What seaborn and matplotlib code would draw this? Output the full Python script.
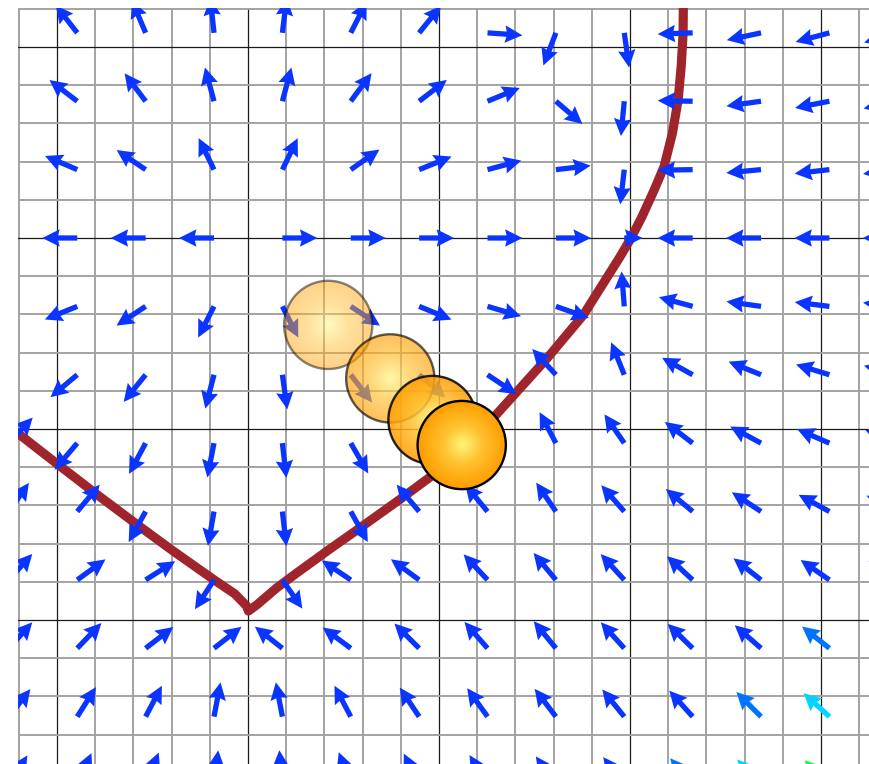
import numpy as np
import matplotlib
matplotlib.use("Agg")
import matplotlib.pyplot as plt
import seaborn as sns
from matplotlib.patches import Circle
from matplotlib.colors import to_rgb

# ---------------- data ----------------
# arrow tail positions (data units; major grid = 1)
arrow_x = [-1.252, -0.894, -0.536, -0.178, 0.180, 0.538, 0.896,
           1.254, 1.612, 1.970, 2.328, 2.686, 3.044, 3.402]
arrow_y = [3.074, 2.716, 2.358, 2.000, 1.642, 1.284, 0.926,
           0.568, 0.210, -0.148, -0.506, -0.864]

# arrow directions in degrees (row = arrow_y, column = arrow_x)
arrow_angle = [
    [140, 128, 113, 96, 83, 63, 51, -4, -111, -82, -178, -168, -165, -164],
    [150, 142.6, 127, 105, 75, 53.5, 37.6, 22.4, -40.7, -95.5, 179, -172, -169, -168],
    [165, 157, 146, 116, 64, 35, 22, 15, 6.5, -96.6, -179, -174.6, -173.5, -173],
    [180, 180, 180, 180, 0, 0, 0, 0, 0, 0, 180, 180, 180, 180],
    [-160, -158, -146.6, -117, -63, -33.4, -22.3, -16.4, -19.3, 94.4, 164.8, 172, 173, 174],
    [-145, -140, -129, -104.5, -82, -52.5, -41, -33.7, 132.6, 112, 151, 158, 163, 165],
    [47, -130.4, -118.3, -101, -83.5, -60, -45, 125, 117.8, 124.6, 142.6, 151.7, 156.6, 158],
    [55, 50, -119, -100, -83.4, -60.8, 130, 129.6, 124.3, 131.2, 140, 146.6, 151.5, 153],
    [48, 36, 32.3, -123, -55.2, 146.2, 143.8, 133.1, 129.7, 132.4, 137.3, 141.9, 145.4, 147],
    [48, 46.2, 37.5, 38, 141.8, 143.5, 135, 131.2, 129.3, 132, 135.7, 138.8, 141.6, 143],
    [52, 57.7, 62.2, 79.2, 100.8, 117.8, 123.7, 125.6, 127.4, 129, 132, 135, 137.7, 139],
    [58, 66, 68, 83, 95, 110, 116, 121, 125, 127, 130, 133, 135, 137],
]

# relative arrow length (1 = full) and colour level per arrow
arrow_len = [[1.0] * 14 for _ in arrow_y]
arrow_len[3][9] = 0.52
arrow_level = [[0] * 14 for _ in arrow_y]
arrow_level[9][12] = 1
arrow_level[9][13] = 2
arrow_level[10][11] = 1
arrow_level[10][12] = 2
arrow_level[10][13] = 3
arrow_level[11][10] = 1
arrow_level[11][11] = 2
arrow_level[11][12] = 3
arrow_level[11][13] = 4
level_colors = ["#0a34ff", "#0074ff", "#00d4ff", "#00ff4c", "#ff3000"]

# dark red trajectory curve
curve_x = [-1.30, -1.194, -1.000, -0.775, -0.565, -0.393, -0.183, -0.068,
           -0.007, 0.002, 0.046, 0.150, 0.255, 0.429, 0.586, 0.796, 0.969,
           1.100, 1.250, 1.424, 1.564, 1.756, 1.948, 2.000, 2.062, 2.126,
           2.178, 2.222, 2.252, 2.268, 2.278, 2.280]
curve_y = [1.052, 0.969, 0.818, 0.645, 0.488, 0.362, 0.214, 0.136,
           0.073, 0.047, 0.079, 0.168, 0.246, 0.372, 0.482, 0.632, 0.760,
           0.870, 1.020, 1.213, 1.368, 1.597, 1.902, 1.990, 2.110, 2.250,
           2.373, 2.548, 2.723, 2.897, 3.072, 3.300]

# balls (older ones fade)
ball_x = [0.420, 0.745, 0.966, 1.119]
ball_y = [1.545, 1.265, 1.047, 0.916]
ball_alpha = [0.47, 0.64, 0.85, 1.0]
ball_r = 0.231

# ---------------- layout ----------------
S = 191.0          # pixels per data unit
PX0, PY0 = 248.0, 620.0
W, H = 870, 764
xlim = (-1.203, 3.25)
ylim = (-0.754, 3.203)

sns.set_theme(style="white")
fig = plt.figure(figsize=(W / 100, H / 100), dpi=100)
left = (PX0 + xlim[0] * S) / W
right = (PX0 + xlim[1] * S) / W
top = (PY0 - ylim[1] * S)
bottom = (PY0 - ylim[0] * S)
ax = fig.add_axes([left, 1 - bottom / H, right - left, (bottom - top) / H])
ax.set_facecolor("white")

# grid
ax.set_xticks(np.arange(-1, 3.01, 1.0))
ax.set_yticks(np.arange(0, 3.01, 1.0))
ax.set_xticks(np.arange(-1.2, 3.25, 0.2), minor=True)
ax.set_yticks(np.arange(-0.6, 3.25, 0.2), minor=True)
ax.grid(which="minor", color="#a0a0a0", linewidth=1.35, zorder=0.5)
ax.grid(which="major", color="#1a1a1a", linewidth=0.9, zorder=0.6)
ax.set_axisbelow(True)
ax.tick_params(which="both", length=0, labelbottom=False, labelleft=False)
for sp in ax.spines.values():
    sp.set_visible(False)

# curve
sns.lineplot(x=curve_x, y=curve_y, sort=False, estimator=None, ax=ax,
             color="#a0242c", linewidth=6.6, zorder=2,
             solid_capstyle="butt", solid_joinstyle="round")

# arrows
L = 0.183
XX, YY, UU, VV, CC = [], [], [], [], []
for i, yv in enumerate(arrow_y):
    for j, xv in enumerate(arrow_x):
        a = np.deg2rad(arrow_angle[i][j])
        ln = L * arrow_len[i][j]
        XX.append(xv)
        YY.append(yv)
        UU.append(ln * np.cos(a))
        VV.append(ln * np.sin(a))
        CC.append(level_colors[arrow_level[i][j]])
ax.quiver(XX, YY, UU, VV, color=CC, angles="xy", scale_units="xy", scale=1,
          pivot="tail", width=0.0062, headwidth=3.3, headlength=3.3,
          headaxislength=3.0, zorder=3)

# balls with radial gradient
n = 201
g = np.linspace(-1, 1, n)
gx, gy = np.meshgrid(g, g)
t = np.clip(np.sqrt(gx ** 2 + gy ** 2), 0, 1)
stops_t = [0.0, 0.45, 1.0]
stops_c = [to_rgb("#fff57a"), to_rgb("#ffc12e"), to_rgb("#ff9c00")]
img = np.zeros((n, n, 3))
for k in range(3):
    img[..., k] = np.interp(t, stops_t, [c[k] for c in stops_c])

for k, (bx, by, ba) in enumerate(zip(ball_x, ball_y, ball_alpha)):
    z = 4 + k
    circ = Circle((bx, by), ball_r, transform=ax.transData, facecolor="none")
    im = ax.imshow(img, extent=[bx - ball_r, bx + ball_r, by - ball_r, by + ball_r],
                   origin="lower", alpha=ba, zorder=z, aspect="auto",
                   interpolation="bilinear")
    im.set_clip_path(circ)
    ax.add_patch(Circle((bx, by), ball_r, facecolor="none", edgecolor="black",
                        linewidth=1.7, alpha=ba, zorder=z + 0.5))

ax.set_xlim(*xlim)
ax.set_ylim(*ylim)
fig.savefig("out.png", dpi=100, facecolor="white")
